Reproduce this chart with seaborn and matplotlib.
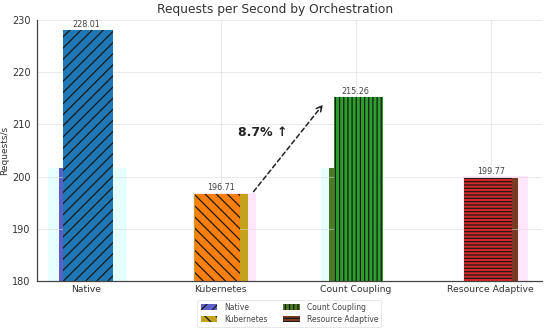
import matplotlib
matplotlib.use("Agg")
import matplotlib.pyplot as plt
import seaborn as sns
import pandas as pd
import numpy as np
from matplotlib.patches import Patch

categories = ["Native", "Kubernetes", "Count Coupling", "Resource Adaptive"]
rps = [228.01, 196.71, 215.26, 199.77]
under_values = [201.6, 196.71, 201.6, 199.77]
pale_values = [201.6, 196.9, 201.6, 200.1]
main_colors = ["#1f77b4", "#ff7f0e", "#2ca02c", "#d62728"]
legend_colors = ["#5b5fc7", "#c4a21c", "#4a7a22", "#7b3a22"]
pale_colors = ["#e6ffff", "#ffe6fb", "#e6ffff", "#ffe6fb"]
hatches = ["///", "\\\\\\", "||||", "-----"]
gain_text = "8.7% \u2191"

# style: (center offset, width) per bar for each layer
pale_geom = [(0.011, 0.585), (0.026, 0.466), (-0.03, 0.46), (0.033, 0.48)]
under_geom = [(0.0, 0.40), (0.0, 0.40), (0.0, 0.40), (0.0, 0.40)]
main_geom = [(0.015, 0.37), (-0.026, 0.33), (0.02, 0.36), (-0.02, 0.35)]

sns.set_style("whitegrid")
plt.rcParams["font.family"] = ["DejaVu Sans"]
plt.rcParams["hatch.linewidth"] = 0.9

fig = plt.figure(figsize=(5.5, 3.31), dpi=100)
ax = fig.add_axes([0.067, 0.151, 0.918, 0.789])

df = pd.DataFrame({"cat": categories, "rps": rps, "under": under_values,
                   "pale": pale_values})


def reshape(patches, geom):
    for i, (p, (off, w)) in enumerate(zip(patches, geom)):
        p.set_width(w)
        p.set_x(i + off - w / 2)


sns.barplot(data=df, x="cat", y="pale", hue="cat", palette=pale_colors,
            width=0.5, ax=ax, legend=False, errorbar=None, saturation=1,
            zorder=1)
pale_patches = list(ax.patches)
n0 = len(ax.patches)
sns.barplot(data=df, x="cat", y="under", hue="cat", palette=legend_colors,
            width=0.4, ax=ax, legend=False, errorbar=None, saturation=1,
            zorder=2)
under_patches = ax.patches[n0:]
n1 = len(ax.patches)
sns.barplot(data=df, x="cat", y="rps", hue="cat", palette=main_colors,
            width=0.36, ax=ax, legend=False, errorbar=None, saturation=1,
            zorder=3)
main_patches = ax.patches[n1:]

reshape(pale_patches, pale_geom)
reshape(under_patches, under_geom)
reshape(main_patches, main_geom)
for p in pale_patches + list(under_patches):
    p.set_linewidth(0)
for p, h in zip(main_patches, hatches):
    p.set_hatch(h)
    p.set_edgecolor("#1a1a1a")
    p.set_linewidth(0.0)

for i, v in enumerate(rps):
    ax.text(i, v + 0.25, f"{v:.2f}", ha="center", va="bottom",
            fontsize=5.8, color="#444444", zorder=5)

ax.annotate("", xy=(1.77, 214.2), xytext=(1.23, 196.7),
            arrowprops=dict(arrowstyle="->", linestyle=(0, (3, 2)),
                            color="#222222", lw=1.1), zorder=6)
ax.text(1.31, 208.4, gain_text, ha="center", va="center", fontsize=9,
        fontweight="bold", color="#222222")

ax.set_ylim(180, 230)
ax.set_xlim(-0.363, 3.378)
ax.set_yticks([180, 190, 200, 210, 220, 230])
ax.set_title("Requests per Second by Orchestration", fontsize=8.8,
             color="#333333", pad=5, x=0.471)
ax.set_ylabel("Requests/s", fontsize=6.5, color="#333333", labelpad=2)
ax.set_xlabel("")
ax.tick_params(axis="y", labelsize=7, colors="#333333", length=2.5, pad=2)
ax.tick_params(axis="x", labelsize=6.7, colors="#333333", length=0, pad=3)
ax.grid(True, color="#d8d8d8", linewidth=0.7, alpha=0.55)
ax.set_axisbelow(False)
for s in ["top", "right"]:
    ax.spines[s].set_visible(False)
for s in ["left", "bottom"]:
    ax.spines[s].set_color("#444444")
    ax.spines[s].set_linewidth(0.9)
    ax.spines[s].set_zorder(7)

handles = [Patch(facecolor=c, hatch=h, edgecolor="#1a1a1a", linewidth=0, label=l)
           for c, h, l in zip(legend_colors, hatches, categories)]
leg = ax.legend(handles=handles, loc="upper center", bbox_to_anchor=(0.5, -0.058),
                ncol=2, fontsize=5.5, frameon=True, handlelength=2.2,
                handleheight=0.8, columnspacing=2.0, labelspacing=0.35,
                borderpad=0.4, handletextpad=0.9)
leg.get_frame().set_edgecolor("#dddddd")
leg.get_frame().set_linewidth(0.6)
for t in leg.get_texts():
    t.set_color("#444444")

fig.savefig("out.png", dpi=100)
